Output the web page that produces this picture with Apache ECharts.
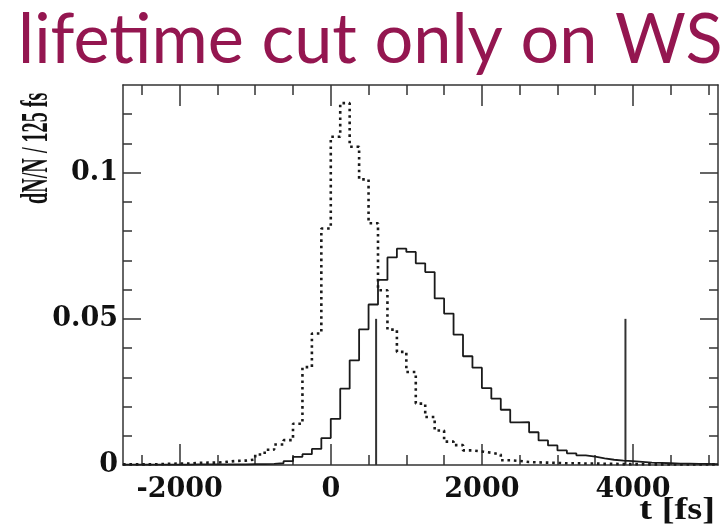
<!DOCTYPE html>
<html><head><meta charset="utf-8">
<script src="https://cdn.jsdelivr.net/npm/echarts@6/dist/echarts.min.js"></script>
<style>html,body{margin:0;padding:0;background:#fff}#c{width:725px;height:527px}</style>
</head><body><div id="c"></div>
<script>
const titleText = 'lifetime cut only on WS';
const yTitle = 'dN/N / 125 fs';
const xTitle = 't [fs]';
const binLow = -2750, binWidth = 125;
const xMin = -2750, xMax = 5125;
const yMin = 0, yMax = 0.13;
const xMajorTicks = [-2000, 0, 2000, 4000];
const xMinorTicks = [-2500, -2000, -1500, -1000, -500, 0, 500, 1000, 1500, 2000, 2500, 3000, 3500, 4000, 4500, 5000];
const xLabels = [-2000, 0, 2000, 4000];
const yMajorTicks = [0.05, 0.1];
const yMinorTicks = [0.01, 0.02, 0.03, 0.04, 0.05, 0.06, 0.07, 0.08, 0.09, 0.1, 0.11, 0.12];
const yLabels = [0, 0.05, 0.1];
// dotted histogram (bins of 125 fs starting at -2750)
const dottedValues = [
  0.0002, 0.0002, 0.0002, 0.0003, 0.0004, 0.0005, 0.0005, 0.0007, 0.0008, 0.0008,
  0.0011, 0.0014, 0.0015, 0.0019, 0.0036, 0.0052, 0.0070, 0.0085, 0.0141, 0.0335,
  0.0450, 0.0809, 0.1123, 0.1238, 0.1089, 0.0977, 0.0827, 0.0598, 0.0463, 0.0387,
  0.0318, 0.0210, 0.0164, 0.0118, 0.0080, 0.0068, 0.0050, 0.0046, 0.0042, 0.0036,
  0.0016, 0.0014, 0.0010, 0.0009, 0.0008, 0.0007, 0.0006, 0.0006, 0.0005, 0.0005,
  0.0004, 0.0004, 0.0003, 0.0003, 0.0003, 0.0002, 0.0002, 0.0002, 0.0002, 0.0002,
  0.0002, 0.0002, 0.0002
];
// solid histogram
const solidValues = [
  0.0001, 0.0001, 0.0001, 0.0001, 0.0001, 0.0001, 0.0001, 0.0002, 0.0002, 0.0002,
  0.0002, 0.0002, 0.0002, 0.0003, 0.0003, 0.0004, 0.0006, 0.0013, 0.0028, 0.0037,
  0.0055, 0.0092, 0.0158, 0.0261, 0.0358, 0.0464, 0.0549, 0.0633, 0.0710, 0.0740,
  0.0729, 0.0690, 0.0660, 0.0570, 0.0518, 0.0446, 0.0372, 0.0333, 0.0263, 0.0227,
  0.0189, 0.0146, 0.0147, 0.0112, 0.0084, 0.0067, 0.0050, 0.0040, 0.0033, 0.0029,
  0.0023, 0.0018, 0.0015, 0.0013, 0.0011, 0.0008, 0.0007, 0.0006, 0.0005, 0.0005,
  0.0004, 0.0004, 0.0003
];
const cutPositions = [600, 3900];
const cutHeight = 0.05;

function histData(vals) {
  const d = vals.map((v, i) => [binLow + i * binWidth, v]);
  d.push([binLow + vals.length * binWidth, vals[vals.length - 1]]);
  return d;
}
const axisColor = '#333';
const labelFont = { fontFamily: 'DejaVu Serif', fontWeight: 'bold', fontSize: 27, color: '#111' };

function xAx(pos, ticks, len, labels, showLine) {
  return {
    type: 'value', min: xMin, max: xMax, position: pos,
    axisLine: { show: showLine, onZero: false, lineStyle: { color: axisColor, width: 1.5 } },
    axisTick: { show: true, inside: true, length: len, customValues: ticks, lineStyle: { color: axisColor, width: 1.5 } },
    axisLabel: labels ? Object.assign({ show: true, customValues: labels, margin: 11, formatter: v => String(v) }, labelFont) : { show: false },
    splitLine: { show: false }
  };
}
function yAx(pos, ticks, len, labels, showLine) {
  return {
    type: 'value', min: yMin, max: yMax, position: pos,
    axisLine: { show: showLine, onZero: false, lineStyle: { color: axisColor, width: 1.5 } },
    axisTick: { show: true, inside: true, length: len, customValues: ticks, lineStyle: { color: axisColor, width: 1.5 } },
    axisLabel: labels ? Object.assign({ show: true, customValues: labels, margin: 5, formatter: v => String(v) }, labelFont) : { show: false },
    splitLine: { show: false }
  };
}

const chart = echarts.init(document.getElementById('c'), null, { renderer: 'canvas' });
const series = [
  { type: 'line', step: 'end', showSymbol: false, data: histData(dottedValues), xAxisIndex: 0, yAxisIndex: 0,
    lineStyle: { color: '#1a1a1a', width: 2.6, type: [2.6, 3.8] }, animation: false, z: 3 },
  { type: 'line', step: 'end', showSymbol: false, data: histData(solidValues), xAxisIndex: 0, yAxisIndex: 0,
    lineStyle: { color: '#1a1a1a', width: 1.8 }, animation: false, z: 4 }
];
cutPositions.forEach(c => series.push({
  type: 'line', showSymbol: false, data: [[c, 0], [c, cutHeight]], xAxisIndex: 0, yAxisIndex: 0,
  lineStyle: { color: '#333', width: 2 }, animation: false, z: 2
}));

chart.setOption({
  animation: false,
  backgroundColor: '#fff',
  grid: { left: 123, right: 7, top: 85, bottom: 62, containLabel: false },
  xAxis: [
    xAx('bottom', xMajorTicks, 21, xLabels, true),
    xAx('bottom', xMinorTicks, 10, null, false),
    xAx('top', xMajorTicks, 21, null, true),
    xAx('top', xMinorTicks, 10, null, false)
  ],
  yAxis: [
    yAx('left', yMajorTicks, 18, yLabels, true),
    yAx('left', yMinorTicks, 9, null, false),
    yAx('right', yMajorTicks, 18, null, true),
    yAx('right', yMinorTicks, 9, null, false)
  ],
  series: series,
  graphic: [
    { type: 'text', x: 18, y: 40, scaleX: 0.978, style: { text: titleText, font: '70px Lato', fill: '#941650', textVerticalAlign: 'middle' } },
    { type: 'text', x: 37, y: 204, rotation: Math.PI / 2, scaleX: 0.53,
      style: { text: yTitle, font: 'bold 38px "Liberation Serif"', fill: '#111', textAlign: 'left', textVerticalAlign: 'middle' } },
    { type: 'text', x: 715, y: 511, scaleX: 1.2, style: { text: xTitle, font: 'bold 32px "Liberation Serif"', fill: '#111', textAlign: 'right', textVerticalAlign: 'middle' } }
  ]
});
</script></body></html>
